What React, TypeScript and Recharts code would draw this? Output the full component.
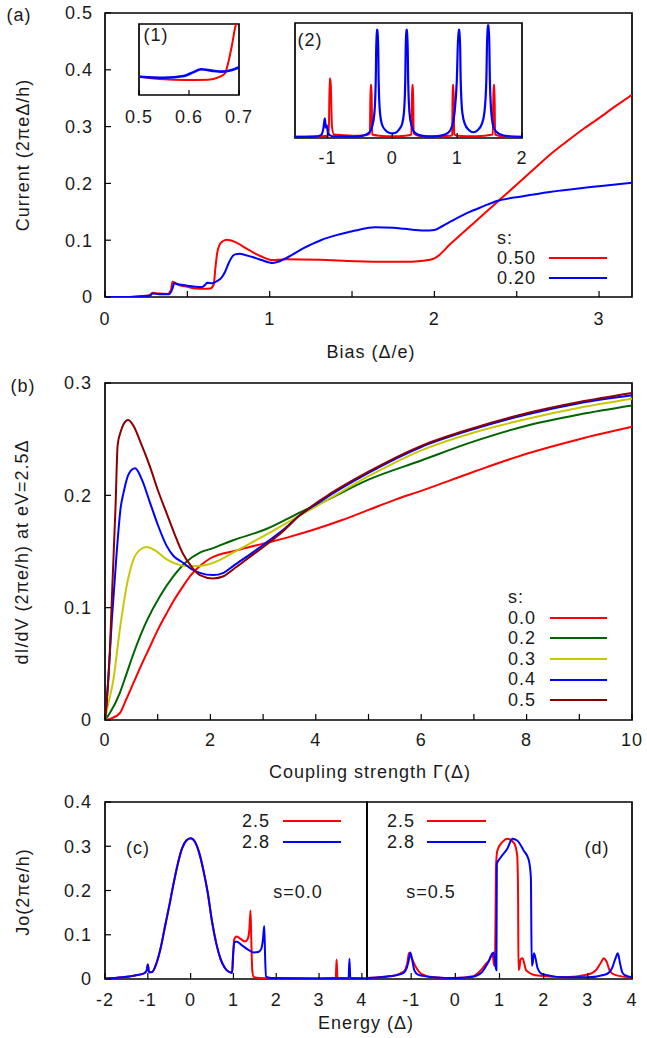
import React from 'react';
import { LineChart, Line, XAxis, YAxis, ReferenceArea, Legend } from 'recharts';

const FONT = '"Liberation Sans", Arial, Helvetica, sans-serif';
const TXT = '#1a1a1a';

// ---------- Panel (a): current vs bias ----------
const biasTicks = [0, 0.5, 1, 1.5, 2, 2.5, 3];
const currentTicks = [0, 0.1, 0.2, 0.3, 0.4, 0.5];
const currentS050 = [
  [0, 0], [0.12, 0], [0.2, 0.001], [0.27, 0.003], [0.29, 0.0076], [0.33, 0.006], [0.38, 0.0055],
  [0.4, 0.012], [0.41, 0.027], [0.43, 0.024], [0.45, 0.021], [0.5, 0.018], [0.55, 0.015],
  [0.6, 0.0145], [0.64, 0.015], [0.66, 0.022], [0.67, 0.05], [0.68, 0.075], [0.7, 0.094],
  [0.72, 0.099], [0.74, 0.101], [0.77, 0.099], [0.81, 0.094], [0.86, 0.085], [0.91, 0.077],
  [0.96, 0.07], [1.01, 0.065], [1.1, 0.0665], [1.3, 0.0655], [1.52, 0.063], [1.7, 0.062],
  [1.82, 0.062], [1.9, 0.063], [1.98, 0.066], [2.0, 0.068], [2.1, 0.094], [2.2, 0.12],
  [2.3, 0.146], [2.4, 0.172], [2.5, 0.198], [2.6, 0.224], [2.7, 0.25], [2.8, 0.273],
  [2.9, 0.295], [3.0, 0.315], [3.1, 0.336], [3.2, 0.356],
];
const currentS020 = [
  [0, 0], [0.12, 0], [0.2, 0.001], [0.27, 0.002], [0.29, 0.006], [0.33, 0.005], [0.39, 0.005],
  [0.41, 0.015], [0.42, 0.024], [0.45, 0.022], [0.5, 0.02], [0.55, 0.018], [0.59, 0.0175],
  [0.61, 0.022], [0.62, 0.025], [0.65, 0.024], [0.68, 0.028], [0.71, 0.035], [0.73, 0.045],
  [0.75, 0.059], [0.77, 0.07], [0.79, 0.075], [0.82, 0.076], [0.85, 0.074], [0.9, 0.07],
  [0.95, 0.065], [1.02, 0.06], [1.06, 0.063], [1.11, 0.07], [1.2, 0.085], [1.31, 0.1],
  [1.42, 0.11], [1.52, 0.117], [1.64, 0.123], [1.75, 0.122], [1.82, 0.12], [1.94, 0.117],
  [2.0, 0.118], [2.05, 0.125], [2.1, 0.133], [2.2, 0.148], [2.3, 0.16], [2.38, 0.169],
  [2.53, 0.177], [2.7, 0.185], [2.9, 0.192], [3.0, 0.195], [3.2, 0.201],
];

// inset (1)
const inset1Ticks = [0.5, 0.6, 0.7];
const inset1S050 = [
  [0.502, 0.258], [0.55, 0.221], [0.59, 0.211], [0.638, 0.216], [0.659, 0.249], [0.672, 0.305],
  [0.679, 0.47], [0.686, 0.704], [0.692, 0.939], [0.698, 1.1], [0.7, 1.15],
];
const inset1S020 = [
  [0.502, 0.258], [0.55, 0.244], [0.59, 0.268], [0.608, 0.319], [0.624, 0.362], [0.645, 0.343],
  [0.665, 0.329], [0.686, 0.352], [0.7, 0.39],
];

// inset (2)
const inset2Ticks = [-1, 0, 1, 2];
const inset2S050 = [
  [-1.5, 0.01], [-1.1, 0.015], [-0.98, 0.02], [-0.965, 0.52], [-0.95, 0.48], [-0.93, 0.1],
  [-0.9, 0.03], [-0.6, 0.02], [-0.4, 0.025], [-0.345, 0.04], [-0.335, 0.46], [-0.32, 0.46],
  [-0.31, 0.03], [-0.2, 0.02], [0, 0.015], [0.2, 0.02], [0.295, 0.03], [0.305, 0.46],
  [0.32, 0.46], [0.33, 0.04], [0.4, 0.02], [0.6, 0.015], [0.9, 0.02], [0.925, 0.03],
  [0.93, 0.46], [0.945, 0.46], [0.955, 0.03], [1.0, 0.02], [1.3, 0.015], [1.55, 0.03],
  [1.56, 0.46], [1.575, 0.46], [1.585, 0.03], [1.7, 0.015], [2, 0.01],
];
const inset2S020 = [
  [-1.5, 0.01], [-1.2, 0.012], [-1.1, 0.025], [-1.06, 0.09], [-1.04, 0.17], [-1.025, 0.09],
  [-1.01, 0.11], [-0.99, 0.04], [-0.93, 0.015], [-0.6, 0.012], [-0.45, 0.02], [-0.36, 0.045],
  [-0.31, 0.1], [-0.275, 0.22], [-0.255, 0.5], [-0.242, 0.94], [-0.222, 0.94], [-0.21, 0.5],
  [-0.19, 0.22], [-0.16, 0.12], [-0.11, 0.07], [-0.05, 0.045], [0, 0.04], [0.05, 0.045],
  [0.1, 0.07], [0.15, 0.12], [0.18, 0.22], [0.2, 0.5], [0.212, 0.94], [0.232, 0.94],
  [0.245, 0.5], [0.265, 0.22], [0.3, 0.1], [0.35, 0.045], [0.45, 0.02], [0.6, 0.012],
  [0.75, 0.02], [0.86, 0.045], [0.92, 0.1], [0.96, 0.22], [0.995, 0.5], [1.02, 0.94],
  [1.04, 0.94], [1.055, 0.5], [1.08, 0.22], [1.12, 0.12], [1.18, 0.07], [1.25, 0.05],
  [1.32, 0.07], [1.38, 0.12], [1.42, 0.22], [1.45, 0.5], [1.468, 0.98], [1.49, 0.98],
  [1.505, 0.5], [1.53, 0.2], [1.57, 0.08], [1.65, 0.035], [1.8, 0.015], [2, 0.01],
];

// ---------- Panel (b): dI/dV vs coupling ----------
const gammaTicks = [0, 1, 2, 3, 4, 5, 6, 7, 8, 9, 10];
const didvTicks = [0, 0.1, 0.2, 0.3];
const didvS00 = [
  [0, 0], [0.1, 0.001], [0.28, 0.006], [0.4, 0.018], [0.54, 0.033], [0.7, 0.05], [0.85, 0.065],
  [1.0, 0.08], [1.17, 0.095], [1.3, 0.106], [1.48, 0.119], [1.65, 0.13], [1.8, 0.137],
  [2.0, 0.144], [2.5, 0.151], [3.0, 0.157], [3.5, 0.163], [4.0, 0.17], [4.5, 0.178],
  [5.0, 0.187], [5.5, 0.196], [6.0, 0.204], [7.0, 0.221], [8.0, 0.237], [9.0, 0.25],
  [10, 0.261],
];
const didvS02 = [
  [0, 0], [0.09, 0.006], [0.28, 0.024], [0.4, 0.04], [0.54, 0.059], [0.79, 0.088], [1.04, 0.11],
  [1.3, 0.128], [1.55, 0.141], [1.8, 0.149], [2.05, 0.153], [2.43, 0.16], [3.06, 0.17],
  [3.5, 0.18], [3.8, 0.187], [4.0, 0.191], [5.0, 0.214], [6.0, 0.231], [7.0, 0.248],
  [8.0, 0.262], [9.0, 0.272], [10, 0.28],
];
const didvS03 = [
  [0, 0], [0.05, 0.012], [0.16, 0.036], [0.28, 0.08], [0.41, 0.119], [0.54, 0.143], [0.65, 0.151],
  [0.79, 0.154], [0.95, 0.151], [1.17, 0.143], [1.35, 0.139], [1.55, 0.137], [1.75, 0.137],
  [1.92, 0.138], [2.2, 0.143], [2.43, 0.149], [3.06, 0.165], [3.69, 0.182], [4.0, 0.19],
  [5.0, 0.217], [6.0, 0.24], [7.0, 0.256], [8.0, 0.268], [9.0, 0.278], [10, 0.286],
];
const didvS04 = [
  [0, 0], [0.03, 0.015], [0.08, 0.05], [0.13, 0.089], [0.22, 0.148], [0.3, 0.19], [0.35, 0.202],
  [0.45, 0.219], [0.57, 0.224], [0.7, 0.214], [0.85, 0.194], [1.0, 0.174], [1.17, 0.155],
  [1.3, 0.146], [1.48, 0.14], [1.65, 0.134], [1.8, 0.131], [2.05, 0.129], [2.25, 0.131],
  [2.43, 0.137], [2.8, 0.149], [3.06, 0.158], [3.4, 0.17], [3.69, 0.182], [4.0, 0.192],
  [5.0, 0.22], [6.0, 0.243], [7.0, 0.259], [8.0, 0.272], [9.0, 0.282], [10, 0.289],
];
const didvS05 = [
  [0, 0], [0.03, 0.015], [0.09, 0.059], [0.14, 0.12], [0.2, 0.19], [0.24, 0.245], [0.3, 0.257],
  [0.35, 0.263], [0.44, 0.267], [0.55, 0.261], [0.66, 0.249], [0.85, 0.226], [1.0, 0.205],
  [1.17, 0.184], [1.3, 0.168], [1.48, 0.148], [1.65, 0.136], [1.8, 0.129], [2.05, 0.126],
  [2.25, 0.128], [2.43, 0.134], [2.8, 0.147], [3.06, 0.156], [3.4, 0.169], [3.69, 0.182],
  [4.0, 0.193], [4.26, 0.201], [5.0, 0.221], [6.0, 0.244], [7.0, 0.26], [8.0, 0.273],
  [9.0, 0.283], [10, 0.291],
];

// ---------- Panels (c), (d): Jo vs energy ----------
const energyTicksC = [-2, -1, 0, 1, 2, 3, 4];
const energyTicksD = [-1, 0, 1, 2, 3, 4];
const joTicks = [0, 0.1, 0.2, 0.3, 0.4];
const joS00V25 = [
  [-2, 0.001], [-1.6, 0.004], [-1.3, 0.008], [-1.1, 0.012], [-1.03, 0.018], [-1.0, 0.033],
  [-0.97, 0.015], [-0.9, 0.016], [-0.8, 0.035], [-0.7, 0.07], [-0.6, 0.118], [-0.5, 0.165],
  [-0.4, 0.215], [-0.3, 0.26], [-0.2, 0.295], [-0.1, 0.313], [0, 0.318], [0.1, 0.31],
  [0.2, 0.285], [0.3, 0.245], [0.4, 0.195], [0.5, 0.13], [0.6, 0.08], [0.7, 0.045],
  [0.8, 0.025], [0.9, 0.016], [0.97, 0.014], [0.99, 0.05], [1.02, 0.09], [1.07, 0.096],
  [1.15, 0.092], [1.27, 0.085], [1.33, 0.09], [1.37, 0.11], [1.4, 0.155], [1.42, 0.08],
  [1.44, 0.02], [1.47, 0.005], [1.6, 0.002], [2.0, 0.001], [3.0, 0.001], [3.39, 0.002],
  [3.41, 0.044], [3.43, 0.002], [4.12, 0.001],
];
const joS00V28 = [
  [-2, 0.001], [-1.6, 0.004], [-1.3, 0.008], [-1.1, 0.012], [-1.03, 0.018], [-1.0, 0.033],
  [-0.97, 0.015], [-0.9, 0.016], [-0.8, 0.035], [-0.7, 0.07], [-0.6, 0.118], [-0.5, 0.165],
  [-0.4, 0.215], [-0.3, 0.26], [-0.2, 0.295], [-0.1, 0.313], [0, 0.318], [0.1, 0.31],
  [0.2, 0.285], [0.3, 0.245], [0.4, 0.195], [0.5, 0.13], [0.6, 0.08], [0.7, 0.045],
  [0.8, 0.025], [0.9, 0.016], [0.97, 0.014], [0.99, 0.05], [1.02, 0.082], [1.07, 0.085],
  [1.2, 0.076], [1.35, 0.066], [1.47, 0.06], [1.58, 0.061], [1.65, 0.068], [1.69, 0.09],
  [1.72, 0.12], [1.74, 0.05], [1.76, 0.005], [1.9, 0.002], [3.0, 0.001], [3.69, 0.002],
  [3.71, 0.046], [3.73, 0.002], [4.12, 0.001],
];
const joS05V25 = [
  [-2, 0.002], [-1.6, 0.005], [-1.37, 0.008], [-1.2, 0.015], [-1.14, 0.02], [-1.08, 0.04],
  [-1.05, 0.059], [-1.0, 0.05], [-0.91, 0.03], [-0.76, 0.011], [-0.5, 0.004], [0, 0.002],
  [0.4, 0.006], [0.58, 0.02], [0.7, 0.035], [0.77, 0.043], [0.84, 0.058], [0.88, 0.03],
  [0.9, 0.04], [0.92, 0.25], [0.95, 0.29], [1.07, 0.31], [1.18, 0.317], [1.33, 0.307],
  [1.4, 0.28], [1.42, 0.2], [1.43, 0.02], [1.45, 0.025], [1.48, 0.045], [1.52, 0.047],
  [1.56, 0.035], [1.6, 0.02], [1.86, 0.008], [2.5, 0.004], [3.0, 0.01], [3.2, 0.022],
  [3.3, 0.038], [3.36, 0.047], [3.42, 0.04], [3.5, 0.018], [3.6, 0.01], [4.0, 0.003],
];
const joS05V28 = [
  [-2, 0.002], [-1.5, 0.006], [-1.2, 0.012], [-1.1, 0.025], [-1.05, 0.045], [-1.02, 0.06],
  [-0.98, 0.045], [-0.93, 0.02], [-0.85, 0.01], [-0.5, 0.004], [0, 0.002], [0.4, 0.005],
  [0.6, 0.015], [0.73, 0.035], [0.87, 0.06], [0.91, 0.03], [0.93, 0.02], [0.94, 0.26],
  [1.03, 0.275], [1.18, 0.295], [1.29, 0.317], [1.4, 0.313], [1.55, 0.29], [1.66, 0.27],
  [1.71, 0.23], [1.73, 0.03], [1.75, 0.035], [1.78, 0.058], [1.82, 0.045], [1.86, 0.025],
  [1.97, 0.011], [2.5, 0.004], [3.0, 0.004], [3.4, 0.01], [3.55, 0.025], [3.62, 0.045],
  [3.68, 0.058], [3.73, 0.035], [3.78, 0.015], [3.85, 0.008], [4.0, 0.004],
];

const legendA = [
  { label: '0.50', color: '#ff0000' },
  { label: '0.20', color: '#0000ff' },
];
const legendB = [
  { label: '0.0', color: '#ff0000' },
  { label: '0.2', color: '#006400' },
  { label: '0.3', color: '#c8c800' },
  { label: '0.4', color: '#0000ff' },
  { label: '0.5', color: '#8b0000' },
];
const legendCD = [
  { label: '2.5', color: '#ff0000' },
  { label: '2.8', color: '#0000ff' },
];

const toPts = (a: number[][]) => a.map(([x, y]) => ({ x, y }));

const tickFont: any = { fontSize: 18, fill: TXT, fontFamily: FONT, letterSpacing: 1 };
const tickLn = { stroke: '#000', strokeWidth: 1.2 };

const Txt = ({ x, y, children, anchor = 'center', rotate = false }: any) => {
  const tx = anchor === 'center' ? '-50%' : anchor === 'end' ? '-100%' : '0';
  return (
    <div
      style={{
        position: 'absolute', left: x, top: y, fontFamily: FONT, fontSize: 18, letterSpacing: 1,
        color: TXT, lineHeight: 1, whiteSpace: 'nowrap',
        transform: `translate(${tx}, -50%)${rotate ? ' rotate(-90deg)' : ''}`,
        transformOrigin: rotate ? 'center' : undefined,
      }}
    >
      {children}
    </div>
  );
};

const LegendBox = ({ title, items, textW, lineW, gap, rowH, align }: any) => (
  <div style={{ fontFamily: FONT, fontSize: 18, letterSpacing: 1, color: TXT, lineHeight: `${rowH}px` }}>
    {title ? <div style={{ height: rowH }}>{title}</div> : null}
    {items.map((it: any) => (
      <div key={it.label} style={{ display: 'flex', alignItems: 'center', height: rowH }}>
        <span style={{ width: textW, textAlign: align }}>{it.label}</span>
        <span style={{ width: lineW, height: 2, background: it.color, marginLeft: gap, display: 'inline-block' }} />
      </div>
    ))}
  </div>
);

const line = (data: number[][], color: string, w = 2) => (
  <Line
    data={toPts(data)}
    dataKey="y"
    type="monotone"
    stroke={color}
    strokeWidth={w}
    dot={false}
    activeDot={false}
    isAnimationActive={false}
  />
);

const frame = (x1: number, x2: number, y1: number, y2: number) => (
  <ReferenceArea x1={x1} x2={x2} y1={y1} y2={y2} fill="none" stroke="#000" strokeWidth={1.7} ifOverflow="visible" />
);

export default function App() {
  return (
    <div style={{ position: 'absolute', left: 0, top: 0, width: 647, height: 1038, background: '#fff', overflow: 'hidden' }}>
      {/* Panel (a) */}
      <div style={{ position: 'absolute', left: 0, top: 0 }}>
        <LineChart width={647} height={340} margin={{ top: 13, right: 5, bottom: 13, left: 45 }}>
          <XAxis type="number" dataKey="x" domain={[0, 3.2]} ticks={biasTicks} allowDataOverflow
            tickFormatter={(v: number) => (Number.isInteger(v) ? String(v) : '')}
            height={30} tickSize={-6} tickMargin={21} axisLine={false} tick={tickFont} tickLine={tickLn} />
          <YAxis type="number" domain={[0, 0.5]} ticks={currentTicks} allowDataOverflow width={60}
            tickSize={-6} tickMargin={18} axisLine={false} tick={tickFont} tickLine={tickLn} />
          <YAxis yAxisId="r" orientation="right" type="number" domain={[0, 0.5]} ticks={currentTicks}
            allowDataOverflow width={10} tickSize={-6} tick={false} axisLine={false} tickLine={tickLn} />
          {frame(0, 3.2, 0, 0.5)}
          {line(currentS050, '#ff0000')}
          {line(currentS020, '#0000ff')}
          <Legend verticalAlign="middle" align="center" layout="horizontal"
            wrapperStyle={{ left: 497, top: 228, width: 'auto', height: 'auto' }}
            content={() => <LegendBox title="s:" items={legendA} textW={44} gap={8} lineW={58} rowH={20} align="left" />} />
        </LineChart>
      </div>

      {/* Inset (1) */}
      <div style={{ position: 'absolute', left: 120, top: 10 }}>
        <LineChart width={140} height={120} margin={{ top: 14, right: 21, bottom: 10, left: 19 }}>
          <XAxis type="number" dataKey="x" domain={[0.5, 0.7]} ticks={inset1Ticks} allowDataOverflow
            height={25} tickSize={-5} tickMargin={20} axisLine={false} tick={tickFont} tickLine={tickLn} />
          <YAxis hide type="number" domain={[0, 1]} allowDataOverflow />
          {frame(0.5, 0.7, 0, 1)}
          {line(inset1S050, '#ff0000', 2)}
          {line(inset1S020, '#0000ff', 2.6)}
        </LineChart>
      </div>

      {/* Inset (2) */}
      <div style={{ position: 'absolute', left: 280, top: 10 }}>
        <LineChart width={260} height={170} margin={{ top: 13, right: 18, bottom: 17, left: 15 }}>
          <XAxis type="number" dataKey="x" domain={[-1.5, 2]} ticks={inset2Ticks} allowDataOverflow
            height={25} tickSize={-5} tickMargin={18} axisLine={false} tick={tickFont} tickLine={tickLn} />
          <YAxis hide type="number" domain={[0, 1]} allowDataOverflow />
          {frame(-1.5, 2, 0, 1)}
          {line(inset2S050, '#ff0000', 2)}
          {line(inset2S020, '#0000ff', 2.2)}
        </LineChart>
      </div>

      {/* Panel (b) */}
      <div style={{ position: 'absolute', left: 0, top: 360 }}>
        <LineChart width={647} height={400} margin={{ top: 23, right: 5, bottom: 10, left: 45 }}>
          <XAxis type="number" dataKey="x" domain={[0, 10]} ticks={gammaTicks} allowDataOverflow
            tickFormatter={(v: number) => (v % 2 === 0 ? String(v) : '')}
            height={30} tickSize={-6} tickMargin={19} axisLine={false} tick={tickFont} tickLine={tickLn} />
          <YAxis type="number" domain={[0, 0.3]} ticks={didvTicks} allowDataOverflow width={60}
            tickSize={-6} tickMargin={19} axisLine={false} tick={tickFont} tickLine={tickLn} />
          <YAxis yAxisId="r" orientation="right" type="number" domain={[0, 0.3]} ticks={didvTicks}
            allowDataOverflow width={10} tickSize={-6} tick={false} axisLine={false} tickLine={tickLn} />
          {frame(0, 10, 0, 0.3)}
          {line(didvS00, '#ff0000')}
          {line(didvS02, '#006400')}
          {line(didvS03, '#c8c800')}
          {line(didvS04, '#0000ff')}
          {line(didvS05, '#8b0000')}
          <Legend verticalAlign="middle" align="center" layout="horizontal"
            wrapperStyle={{ left: 508, top: 227, width: 'auto', height: 'auto' }}
            content={() => <LegendBox title="s:" items={legendB} textW={42} gap={0} lineW={57} rowH={20.6} align="left" />} />
        </LineChart>
      </div>

      {/* Panel (c) */}
      <div style={{ position: 'absolute', left: 0, top: 780 }}>
        <LineChart width={370} height={250} margin={{ top: 22, right: 3, bottom: 21, left: 45 }}>
          <XAxis type="number" dataKey="x" domain={[-2, 4.12]} ticks={energyTicksC} allowDataOverflow
            height={30} tickSize={-6} tickMargin={20} axisLine={false} tick={tickFont} tickLine={tickLn} />
          <YAxis type="number" domain={[0, 0.4]} ticks={joTicks} allowDataOverflow width={60}
            tickSize={-6} tickMargin={19} axisLine={false} tick={tickFont} tickLine={tickLn} />
          {frame(-2, 4.12, 0, 0.4)}
          {line(joS00V25, '#ff0000')}
          {line(joS00V28, '#0000ff')}
          <Legend verticalAlign="middle" align="center" layout="horizontal"
            wrapperStyle={{ left: 230, top: 31, width: 'auto', height: 'auto' }}
            content={() => <LegendBox items={legendCD} textW={40} gap={13} lineW={58} rowH={20.5} align="right" />} />
        </LineChart>
      </div>

      {/* Panel (d) */}
      <div style={{ position: 'absolute', left: 340, top: 780 }}>
        <LineChart width={307} height={250} margin={{ top: 22, right: 5, bottom: 21, left: 26 }}>
          <XAxis type="number" dataKey="x" domain={[-2, 4]} ticks={energyTicksD} allowDataOverflow
            height={30} tickSize={-6} tickMargin={20} axisLine={false} tick={tickFont} tickLine={tickLn} />
          <YAxis type="number" domain={[0, 0.4]} ticks={joTicks} allowDataOverflow width={1}
            tickSize={-6} tick={false} axisLine={false} tickLine={tickLn} />
          <YAxis yAxisId="r" orientation="right" type="number" domain={[0, 0.4]} ticks={joTicks}
            allowDataOverflow width={10} tickSize={-6} tick={false} axisLine={false} tickLine={tickLn} />
          {frame(-2, 4, 0, 0.4)}
          {line(joS05V25, '#ff0000')}
          {line(joS05V28, '#0000ff')}
          <Legend verticalAlign="middle" align="center" layout="horizontal"
            wrapperStyle={{ left: 35, top: 31, width: 'auto', height: 'auto' }}
            content={() => <LegendBox items={legendCD} textW={40} gap={12} lineW={59} rowH={20.5} align="right" />} />
        </LineChart>
      </div>

      {/* Text labels */}
      <Txt x={19} y={15}>(a)</Txt>
      <Txt x={23} y={386}>(b)</Txt>
      <Txt x={138} y={848}>(c)</Txt>
      <Txt x={597} y={848}>(d)</Txt>
      <Txt x={156} y={35}>(1)</Txt>
      <Txt x={310} y={40}>(2)</Txt>
      <Txt x={298} y={892}>s=0.0</Txt>
      <Txt x={431} y={892}>s=0.5</Txt>
      <Txt x={371} y={352}>Bias (Δ/e)</Txt>
      <Txt x={370} y={772}>Coupling strength Γ(Δ)</Txt>
      <Txt x={366} y={1023}>Energy (Δ)</Txt>
      <Txt x={23} y={155} rotate>Current (2πeΔ/h)</Txt>
      <Txt x={22} y={552} rotate>dI/dV (2πe/h) at eV=2.5Δ</Txt>
      <Txt x={23} y={892} rotate>Jo(2πe/h)</Txt>
    </div>
  );
}
